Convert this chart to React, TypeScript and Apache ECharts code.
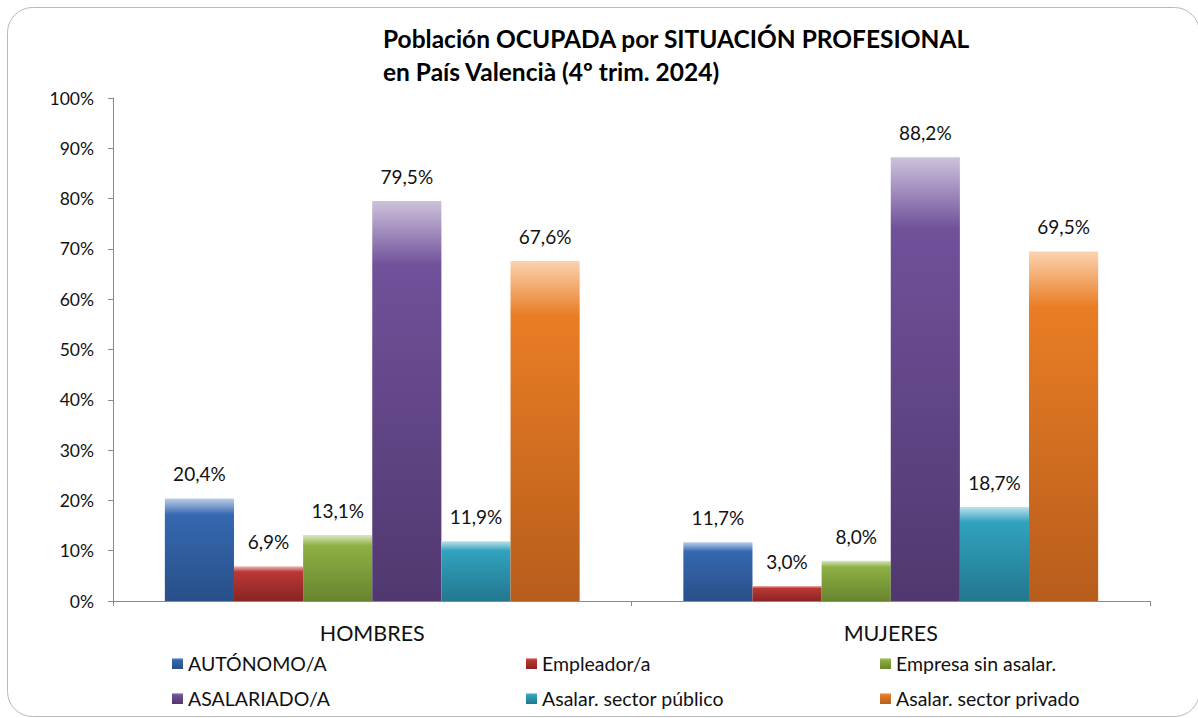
import React, { useEffect, useRef } from "react";
import * as echarts from "echarts";

const categories = ["HOMBRES", "MUJERES"];
const seriesNames = [
  "AUTÓNOMO/A",
  "Empleador/a",
  "Empresa sin asalar.",
  "ASALARIADO/A",
  "Asalar. sector público",
  "Asalar. sector privado",
];
const autonomo = [20.4, 11.7];
const empleador = [6.9, 3.0];
const empresaSinAsalar = [13.1, 8.0];
const asalariado = [79.5, 88.2];
const sectorPublico = [11.9, 18.7];
const sectorPrivado = [67.6, 69.5];
const seriesValues = [autonomo, empleador, empresaSinAsalar, asalariado, sectorPublico, sectorPrivado];

// [top light, main, bottom dark]
const palette = [
  ["#bccfe8", "#3568b0", "#284f88"],
  ["#ecbcbb", "#bb3835", "#8a2422"],
  ["#d9e7c0", "#8db043", "#68852e"],
  ["#cdc2dc", "#70519a", "#50386f"],
  ["#bde2ec", "#31a2bf", "#23778e"],
  ["#fbd3b0", "#e97d24", "#b75d1c"],
];

const FONT = "Lato, 'Open Sans', sans-serif";

export default function App() {
  const ref = useRef<HTMLDivElement>(null);
  useEffect(() => {
    if (!ref.current) return;
    const chart = echarts.init(ref.current, null, { renderer: "svg" });
    const series = seriesNames.map((name, i) => ({
      name,
      type: "bar",
      data: seriesValues[i],
      barGap: "0%",
      barCategoryGap: "20%",
      itemStyle: {
        color: new echarts.graphic.LinearGradient(0, 0, 0, 1, [
          { offset: 0, color: palette[i][0] },
          { offset: 0.16, color: palette[i][1] },
          { offset: 1, color: palette[i][2] },
        ]),
      },
      label: {
        show: true,
        position: "top",
        distance: 15,
        fontFamily: FONT,
        fontSize: 19,
        color: "#111",
        formatter: (p: any) => p.value.toFixed(1).replace(".", ",") + "%",
      },
    }));
    chart.setOption({
      animation: false,
      backgroundColor: "#fff",
      textStyle: { fontFamily: FONT },
      graphic: [
        {
          type: "rect",
          shape: { x: 7.5, y: 7.5, width: 1192, height: 709, r: 25 },
          style: { fill: "none", stroke: "#b8b8b8", lineWidth: 1 },
          z: -1,
        },
        {
          type: "text",
          left: 383,
          top: 22,
          style: {
            text: "Población OCUPADA por SITUACIÓN PROFESIONAL\nen País Valencià (4º trim. 2024)",
            font: `bold 24.5px ${FONT}`,
            lineHeight: 33,
            fill: "#000",
          },
        },
      ],
      legend: {
        left: 172,
        top: 653,
        width: 1100,
        itemWidth: 11,
        itemHeight: 11,
        itemGap: 14,
        icon: "rect",
        data: seriesNames,
        textStyle: {
          fontFamily: FONT,
          fontSize: 19.5,
          color: "#111",
          width: 324,
          lineHeight: 21,
          padding: [0, 0, 0, 0],
        },
        padding: 0,
      },
      grid: { left: 113, right: 48, top: 98, bottom: 117, containLabel: false },
      xAxis: {
        type: "category",
        data: categories,
        axisLine: { lineStyle: { color: "#8a8a8a", width: 1 } },
        axisTick: { show: true, length: 5, lineStyle: { color: "#8a8a8a" } },
        axisLabel: { fontFamily: FONT, fontSize: 21.5, color: "#111", margin: 21 },
      },
      yAxis: {
        type: "value",
        min: 0,
        max: 100,
        interval: 10,
        axisLine: { show: true, lineStyle: { color: "#8a8a8a", width: 1 } },
        axisTick: { show: true, length: 5, lineStyle: { color: "#8a8a8a" } },
        splitLine: { show: false },
        axisLabel: { fontFamily: FONT, fontSize: 17.5, color: "#111", margin: 19, formatter: "{value}%" },
      },
      series,
    });
    return () => chart.dispose();
  }, []);
  return (
    <div
      ref={ref}
      style={{ position: "fixed", left: 0, top: 0, width: 1198, height: 718, background: "#fff" }}
    />
  );
}
